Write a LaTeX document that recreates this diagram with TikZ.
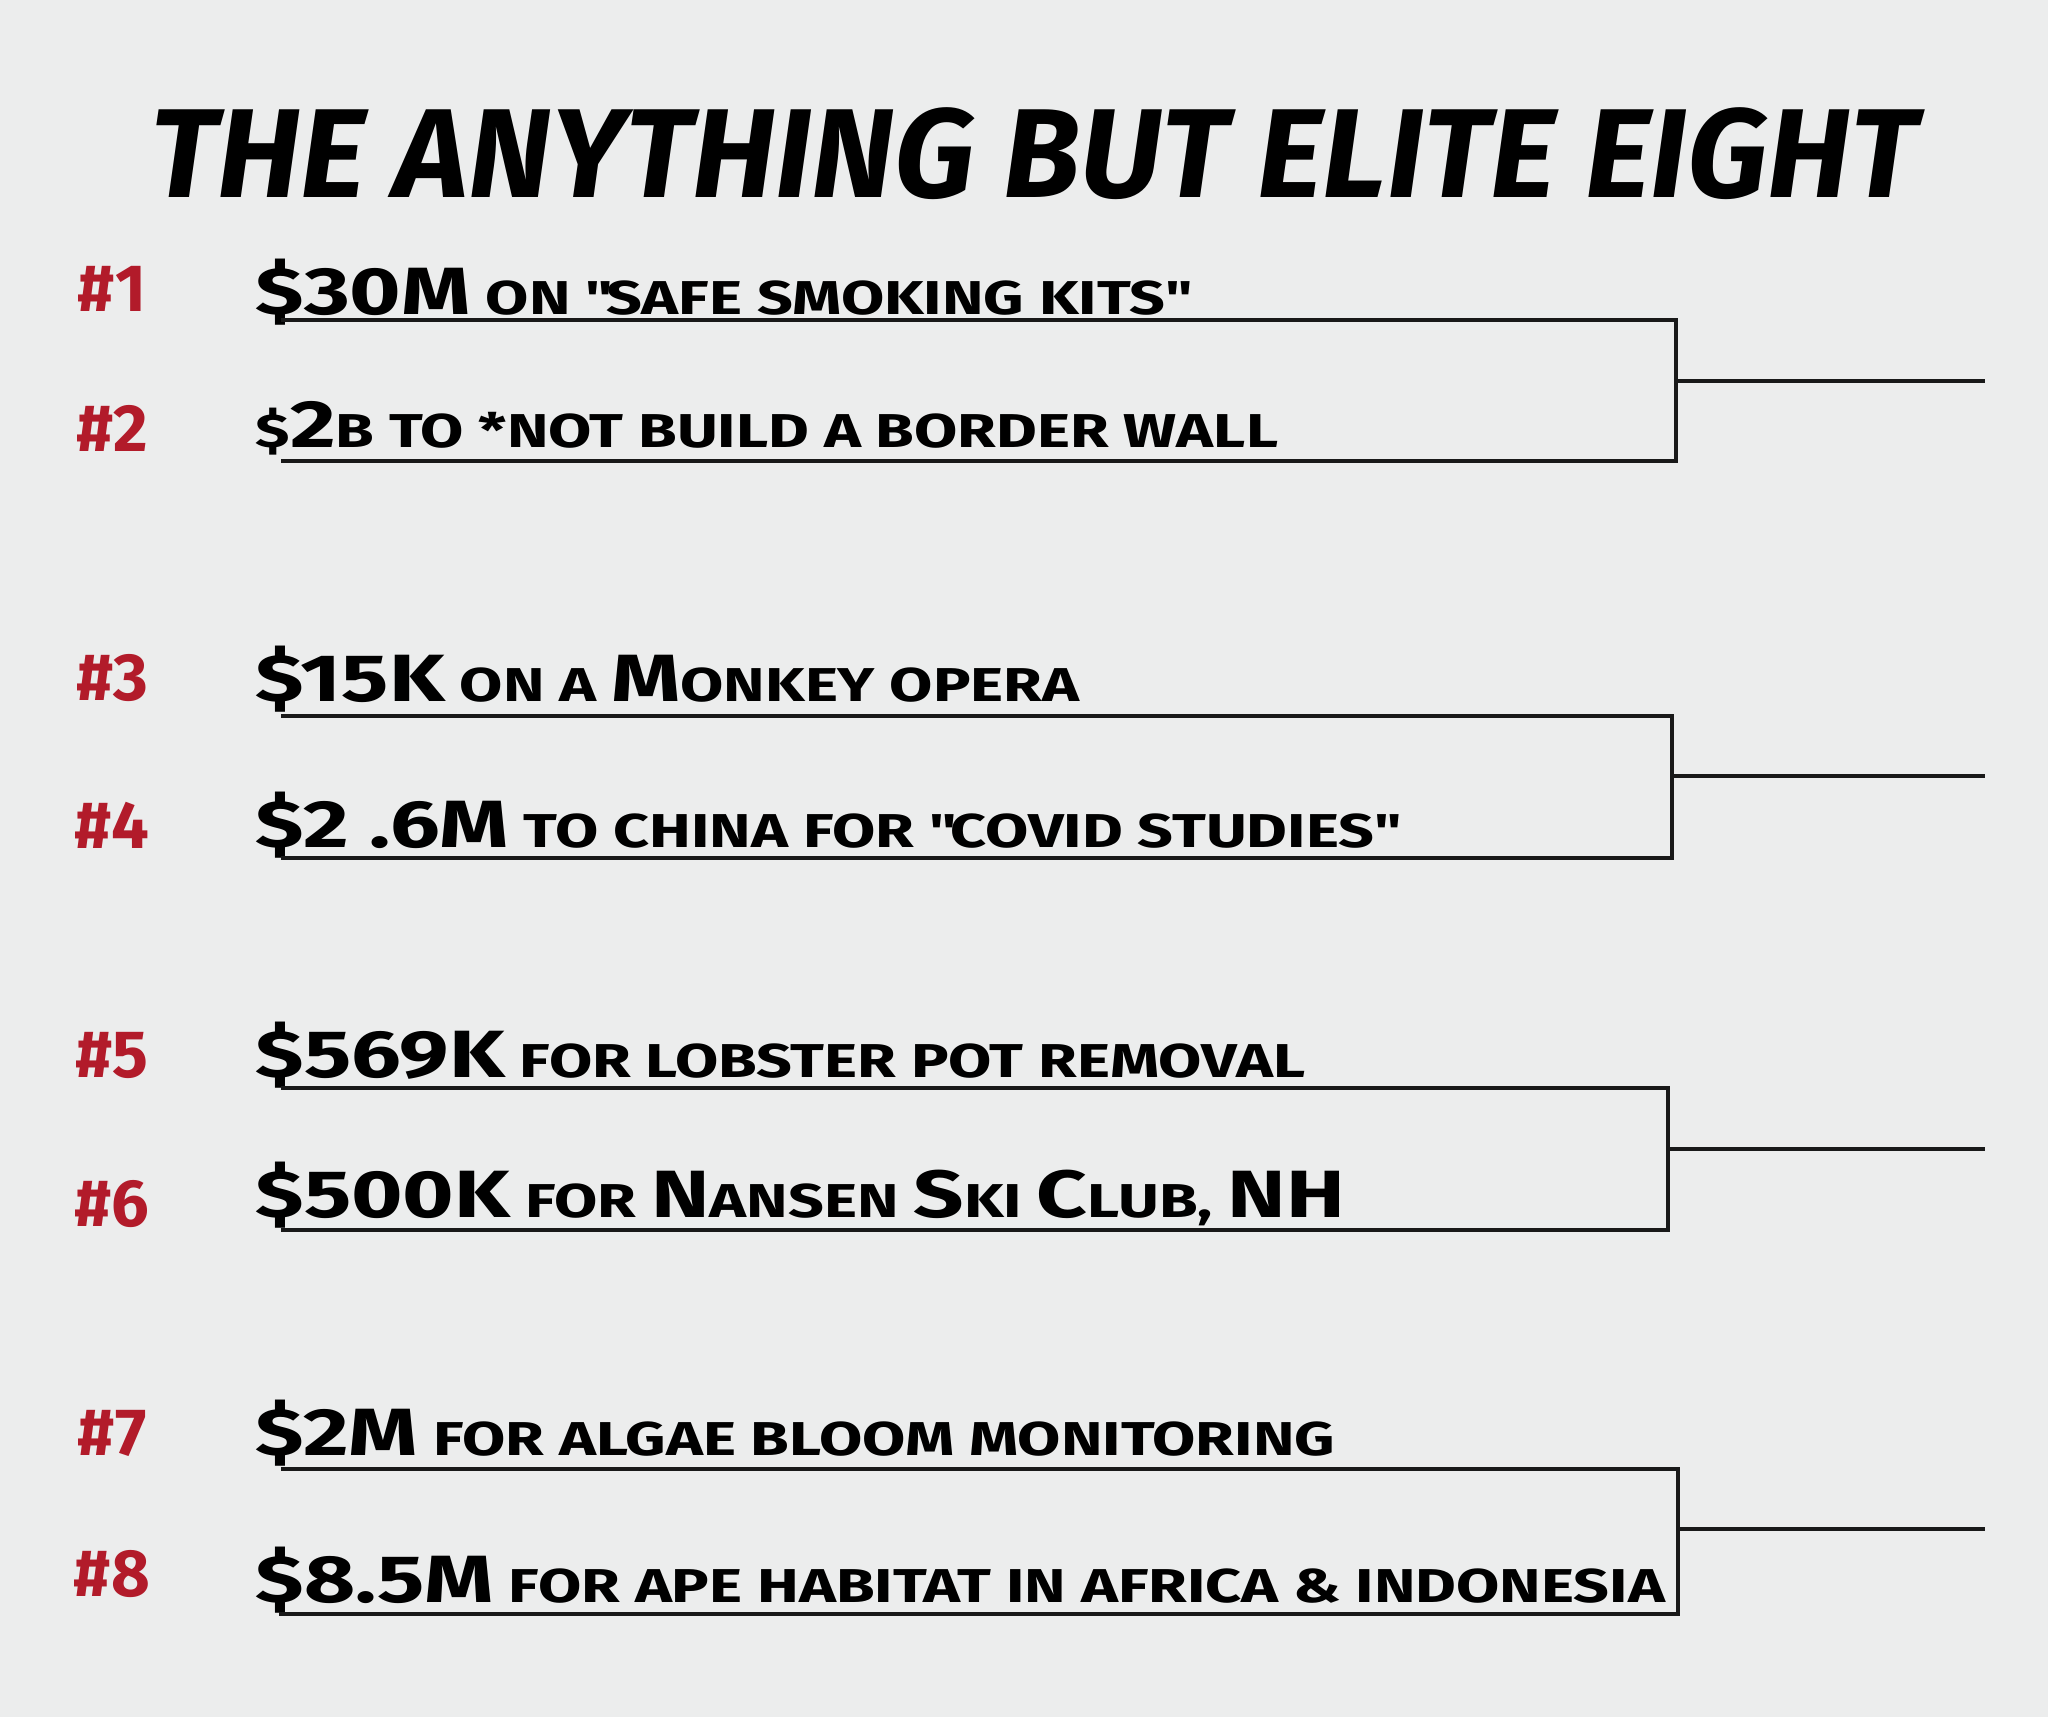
\documentclass[tikz,border=0pt]{standalone}
\usepackage{fontspec}
\setmainfont{Fira Sans}
\newfontfamily\handfont{Fira Sans}[FakeStretch=1.32]
\definecolor{paper}{RGB}{236,237,237}
\definecolor{seedred}{RGB}{178,27,42}
\newcommand{\bigc}[1]{{\fontsize{19}{20}\selectfont #1}}
\newcommand{\qq}{\textquotedbl}

\begin{document}
\begin{tikzpicture}[
    x=0.01cm, y=-0.01cm,
    line cap=butt,
    line join=miter,
    bracket/.style={line width=1.1pt, black!90},
    seed/.style={anchor=center, text=seedred, font=\fontsize{19}{20}\selectfont\bfseries},
    entry/.style={anchor=west, inner sep=0pt, font=\handfont\fontsize{13.5}{16}\selectfont\bfseries},
    title/.style={anchor=center, inner sep=0pt, font=\fontsize{36}{40}\selectfont\bfseries\itshape}
]

% -------------------------------------------------
% Paper
% -------------------------------------------------

\fill[paper] (0,0) rectangle (2048,1717);
\useasboundingbox (0,0) rectangle (2048,1717);

% -------------------------------------------------
% Title
% -------------------------------------------------

\node[title] (head) at (1034,154) {THE ANYTHING BUT ELITE EIGHT};

% -------------------------------------------------
% Seeds
% -------------------------------------------------

\node[seed] (s1) at (112,289)  {\#1};
\node[seed] (s2) at (112,428)  {\#2};
\node[seed] (s3) at (112,678)  {\#3};
\node[seed] (s4) at (112,825)  {\#4};
\node[seed] (s5) at (112,1055) {\#5};
\node[seed] (s6) at (112,1204) {\#6};
\node[seed] (s7) at (112,1433) {\#7};
\node[seed] (s8) at (112,1574) {\#8};

% -------------------------------------------------
% Entries
% -------------------------------------------------

\node[entry] (e1) at (255,292)  {\bigc{\$30M} ON \qq SAFE SMOKING KITS\qq};
\node[entry] (e2) at (255,428)  {\$\bigc{2}B TO *NOT BUILD A BORDER WALL};
\node[entry] (e3) at (255,679)  {\bigc{\$15K} ON A \bigc{M}ONKEY OPERA};
\node[entry] (e4) at (255,825)  {\bigc{\$2 .6M} TO CHINA FOR \qq COVID STUDIES\qq};
\node[entry] (e5) at (255,1055) {\bigc{\$569K} FOR LOBSTER POT REMOVAL};
\node[entry] (e6) at (255,1195) {\bigc{\$500K} FOR \bigc{N}ANSEN \bigc{S}KI \bigc{C}LUB, \bigc{NH}};
\node[entry] (e7) at (255,1433) {\bigc{\$2M} FOR ALGAE BLOOM MONITORING};
\node[entry] (e8) at (255,1580) {\bigc{\$8.5M} FOR APE HABITAT IN AFRICA \& INDONESIA};

% -------------------------------------------------
% Bracket lines
% -------------------------------------------------

\coordinate (a1) at (281,320);   \coordinate (b1) at (1676,320);
\coordinate (a2) at (281,461);   \coordinate (b2) at (1676,461);
\coordinate (m12) at (1676,381); \coordinate (w12) at (1985,381);

\coordinate (a3) at (281,716);   \coordinate (b3) at (1672,716);
\coordinate (a4) at (281,858);   \coordinate (b4) at (1672,858);
\coordinate (m34) at (1672,776); \coordinate (w34) at (1985,776);

\coordinate (a5) at (281,1088);  \coordinate (b5) at (1668,1088);
\coordinate (a6) at (281,1230);  \coordinate (b6) at (1668,1230);
\coordinate (m56) at (1668,1149); \coordinate (w56) at (1985,1149);

\coordinate (a7) at (281,1469);  \coordinate (b7) at (1678,1469);
\coordinate (a8) at (279,1614);  \coordinate (b8) at (1678,1614);
\coordinate (m78) at (1678,1529); \coordinate (w78) at (1985,1529);

\draw[bracket] (a1)--(b1)--(b2)--(a2);
\draw[bracket] (m12)--(w12);

\draw[bracket] (a3)--(b3)--(b4)--(a4);
\draw[bracket] (m34)--(w34);

\draw[bracket] (a5)--(b5)--(b6)--(a6);
\draw[bracket] (m56)--(w56);

\draw[bracket] (a7)--(b7)--(b8)--(a8);
\draw[bracket] (m78)--(w78);

\end{tikzpicture}
\end{document}
